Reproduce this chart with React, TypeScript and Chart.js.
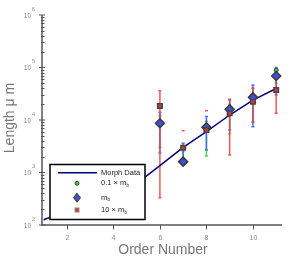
import React, { useEffect, useRef } from "react";
import { Chart, registerables } from "chart.js";
Chart.register(...registerables);

// ---- data ----
const morphOrders = [1, 2, 3, 4, 5, 6, 7, 8, 9, 10, 11];
const morphLength = [126, 186, 282, 417, 617, 1350, 3020, 6030, 12450, 24000, 39800];

const orders = [6, 7, 8, 9, 10, 11];
const mbTenth = [8300, 1650, 7000, 15500, 26000, 89000];
const mbTenthLow = [3000, 1550, 2060, 5500, 9000, 50000];
const mbTenthHigh = [12000, 2500, 9500, 20000, 40000, 95000];

const mb = [8650, 1610, 7260, 16000, 27000, 68900];
const mbLow = [2350, 1500, 2680, 6450, 7450, 30000];
const mbHigh = [14000, 3600, 11600, 24800, 46400, 100000];

const mbTen = [18500, 2950, 6450, 13400, 22300, 37300];
const mbTenLow = [331, null, null, 2150, 9300, 13400];
const mbTenHigh = [36100, null, null, 24000, 40700, 62200];
const mbTenCap = [null, 6250, 15000, null, null, null];

const xTicks = [2, 4, 6, 8, 10];
const yExponents = [2, 3, 4, 5, 6];

const FONT = "'Liberation Sans', Arial, sans-serif";

const pts = (xs: number[], ys: (number | null)[]) =>
  xs.map((x, i) => ({ x, y: ys[i] as number }));

const drawPlugin = {
  id: "custom",
  beforeDatasetsDraw(chart: any) {
    const ctx = chart.ctx;
    const xs = chart.scales.x;
    const ys = chart.scales.y;
    const bars = [
      { lo: mbTenthLow, hi: mbTenthHigh, c: "rgba(60,220,60,0.95)" },
      { lo: mbLow, hi: mbHigh, c: "rgba(70,100,245,0.95)" },
      { lo: mbTenLow, hi: mbTenHigh, c: "rgba(238,70,70,0.9)" },
    ];
    ctx.save();
    ctx.lineWidth = 1.5;
    for (const b of bars) {
      ctx.strokeStyle = b.c;
      orders.forEach((o, i) => {
        const lo = b.lo[i];
        const hi = b.hi[i];
        if (lo == null || hi == null) return;
        const px = xs.getPixelForValue(o);
        const y1 = ys.getPixelForValue(lo);
        const y2 = ys.getPixelForValue(hi);
        ctx.beginPath();
        ctx.moveTo(px, y1);
        ctx.lineTo(px, y2);
        ctx.moveTo(px - 1.5, y1);
        ctx.lineTo(px + 1.5, y1);
        ctx.moveTo(px - 1.5, y2);
        ctx.lineTo(px + 1.5, y2);
        ctx.stroke();
      });
    }
    ctx.strokeStyle = "rgba(238,70,70,0.9)";
    orders.forEach((o, i) => {
      const v = mbTenCap[i];
      if (v == null) return;
      const px = xs.getPixelForValue(o);
      const py = ys.getPixelForValue(v);
      ctx.beginPath();
      ctx.moveTo(px - 1.5, py);
      ctx.lineTo(px + 1.5, py);
      ctx.stroke();
    });
    ctx.restore();
  },
  afterDraw(chart: any) {
    const ctx = chart.ctx;
    const xs = chart.scales.x;
    const ys = chart.scales.y;
    const a = chart.chartArea;
    ctx.save();
    // axes
    ctx.strokeStyle = "#555";
    ctx.lineWidth = 1.5;
    ctx.beginPath();
    ctx.moveTo(a.left, a.top);
    ctx.lineTo(a.left, a.bottom);
    ctx.lineTo(a.right, a.bottom);
    ctx.stroke();
    ctx.lineWidth = 1;
    // y ticks
    for (let e = 2; e < 6; e++) {
      for (let m = 2; m <= 9; m++) {
        const py = Math.round(ys.getPixelForValue(m * Math.pow(10, e))) + 0.5;
        ctx.beginPath();
        ctx.moveTo(a.left - 1, py);
        ctx.lineTo(a.left + 2.5, py);
        ctx.stroke();
      }
    }
    ctx.fillStyle = "#888";
    ctx.textBaseline = "alphabetic";
    for (const e of yExponents) {
      const py = ys.getPixelForValue(Math.pow(10, e));
      ctx.beginPath();
      ctx.moveTo(a.left - 3, py);
      ctx.lineTo(a.left + 3, py);
      ctx.stroke();
      ctx.font = `6.5px ${FONT}`;
      ctx.textAlign = "right";
      ctx.fillText("10", 31, py + 2.5);
      ctx.font = `5.5px ${FONT}`;
      ctx.textAlign = "left";
      ctx.fillText(String(e), 32, py - 4.5);
    }
    // x ticks
    ctx.font = `7px ${FONT}`;
    ctx.textAlign = "center";
    ctx.textBaseline = "middle";
    for (const t of xTicks) {
      const px = Math.round(xs.getPixelForValue(t)) + 0.5;
      ctx.beginPath();
      ctx.moveTo(px, a.bottom);
      ctx.lineTo(px, a.bottom + 4.5);
      ctx.stroke();
      ctx.fillText(String(t), px, 238.5);
    }
    // titles
    ctx.fillStyle = "#777";
    ctx.font = `14px ${FONT}`;
    ctx.textAlign = "center";
    ctx.textBaseline = "middle";
    ctx.fillText("Order Number", 163, 250);
    ctx.save();
    ctx.translate(10, 118);
    ctx.rotate(-Math.PI / 2);
    ctx.fillText("Length \u03bc m", 0, 0);
    ctx.restore();

    // legend
    const L = 50, T = 164.5, R = 145, B = 219.5;
    ctx.fillStyle = "#fff";
    ctx.fillRect(L, T, R - L, B - T);
    ctx.strokeStyle = "#000";
    ctx.lineWidth = 1.5;
    ctx.strokeRect(L, T, R - L, B - T);
    ctx.strokeStyle = "#000080";
    ctx.lineWidth = 1.5;
    ctx.beginPath();
    ctx.moveTo(58, 172.7);
    ctx.lineTo(97, 172.7);
    ctx.stroke();
    // markers
    ctx.lineWidth = 1;
    ctx.strokeStyle = "#444";
    ctx.fillStyle = "#3cc83c";
    ctx.beginPath();
    ctx.arc(77, 183.3, 2, 0, Math.PI * 2);
    ctx.fill();
    ctx.stroke();
    ctx.fillStyle = "#3c50e0";
    ctx.lineWidth = 1.2;
    ctx.beginPath();
    ctx.moveTo(77, 193.5);
    ctx.lineTo(80.3, 197.7);
    ctx.lineTo(77, 201.9);
    ctx.lineTo(73.7, 197.7);
    ctx.closePath();
    ctx.fill();
    ctx.stroke();
    ctx.fillStyle = "#d03838";
    ctx.lineWidth = 1;
    ctx.fillRect(75, 208, 4, 4);
    ctx.strokeStyle = "#888";
    ctx.strokeRect(75, 208, 4, 4);
    // labels
    ctx.fillStyle = "#222";
    ctx.textAlign = "left";
    ctx.textBaseline = "middle";
    ctx.font = `7.5px ${FONT}`;
    ctx.fillText("Morph Data", 101, 172.7);
    const sub = (pre: string, y: number) => {
      ctx.font = `7.5px ${FONT}`;
      ctx.fillText(pre + "m", 101, y);
      const w = ctx.measureText(pre + "m").width;
      ctx.font = `4.5px ${FONT}`;
      ctx.fillText("b", 101 + w + 0.3, y + 2.5);
    };
    sub("0.1 \u00d7 ", 183.3);
    sub("", 197.7);
    sub("10 \u00d7 ", 210);
    ctx.restore();
  },
};

export default function App() {
  const ref = useRef<HTMLCanvasElement>(null);
  useEffect(() => {
    document.body.style.margin = "0";
    const chart = new Chart(ref.current as HTMLCanvasElement, {
      type: "scatter",
      data: {
        datasets: [
          {
            type: "line",
            label: "Morph Data",
            data: pts(morphOrders, morphLength),
            borderColor: "#000080",
            borderWidth: 1.5,
            pointRadius: 0,
            fill: false,
            tension: 0,
            order: 4,
          } as any,
          {
            label: "0.1 x mb",
            data: pts(orders, mbTenth),
            pointStyle: "circle",
            pointRadius: 2,
            backgroundColor: "#3cc83c",
            borderColor: "#444",
            borderWidth: 1,
            order: 3,
          },
          {
            label: "mb",
            data: pts(orders, mb),
            pointStyle: "rectRot",
            pointRadius: 4.5,
            backgroundColor: "#3c50e0",
            borderColor: "#3a3a3a",
            borderWidth: 1.5,
            order: 2,
          },
          {
            label: "10 x mb",
            data: pts(orders, mbTen),
            pointStyle: "rect",
            pointRadius: 3.2,
            backgroundColor: "#d03838",
            borderColor: "#444",
            borderWidth: 1.5,
            order: 1,
          },
        ],
      },
      options: {
        animation: false,
        responsive: false,
        maintainAspectRatio: false,
        layout: { padding: { top: 15, right: 9, left: 0, bottom: 0 } },
        plugins: { legend: { display: false }, tooltip: { enabled: false } },
        scales: {
          x: {
            type: "linear",
            min: 0.93,
            max: 11.25,
            grid: { display: false },
            border: { display: false },
            ticks: { display: false },
            afterFit: (s: any) => {
              s.height = 35;
            },
          },
          y: {
            type: "logarithmic",
            min: 100,
            max: 1000000,
            grid: { display: false },
            border: { display: false },
            ticks: { display: false },
            afterFit: (s: any) => {
              s.width = 42;
            },
          },
        },
      },
      plugins: [drawPlugin],
    });
    return () => chart.destroy();
  }, []);
  return (
    <div style={{ position: "fixed", left: 0, top: 0, width: 291, height: 260, background: "#fff" }}>
      <canvas ref={ref} width={291} height={260} style={{ width: 291, height: 260 }} />
    </div>
  );
}
